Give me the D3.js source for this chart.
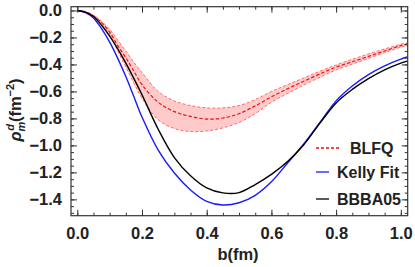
<!DOCTYPE html>
<html>
<head>
<meta charset="utf-8">
<script src="https://cdn.jsdelivr.net/npm/d3@7"></script>
<style>
  body { margin: 0; background: #fff; }
  svg { display: block; }
  text { font-family: "Liberation Sans", Arial, sans-serif; font-weight: bold; fill: #222; }
</style>
</head>
<body>
<svg id="chart" width="415" height="267"></svg>
<script>
// impact parameter grid (fm)
const bGrid = [0, 0.025, 0.05, 0.075, 0.1, 0.125, 0.15, 0.175, 0.2, 0.25, 0.3, 0.35, 0.4, 0.45, 0.5, 0.55, 0.6, 0.65, 0.7, 0.75, 0.8, 0.85, 0.9, 0.95, 1.0, 1.02];
const kelly = [0, -0.015, -0.055, -0.135, -0.235, -0.355, -0.49, -0.64, -0.79, -1.035, -1.205, -1.33, -1.415, -1.442, -1.425, -1.37, -1.27, -1.13, -0.99, -0.83, -0.67, -0.56, -0.475, -0.41, -0.36, -0.345];
const bbba = [0, -0.012, -0.045, -0.11, -0.19, -0.285, -0.39, -0.505, -0.625, -0.88, -1.09, -1.225, -1.315, -1.352, -1.35, -1.29, -1.215, -1.12, -0.995, -0.835, -0.685, -0.585, -0.505, -0.44, -0.39, -0.375];
const blfq = [0, -0.01, -0.04, -0.09, -0.16, -0.26, -0.35, -0.45, -0.55, -0.68, -0.75, -0.785, -0.805, -0.797, -0.765, -0.707, -0.64, -0.58, -0.525, -0.47, -0.42, -0.38, -0.34, -0.3, -0.26, -0.25];
const blfqUpper = [0, -0.009, -0.035, -0.08, -0.14, -0.22, -0.3, -0.385, -0.46, -0.6, -0.67, -0.705, -0.722, -0.722, -0.705, -0.66, -0.6, -0.55, -0.5, -0.45, -0.404, -0.362, -0.322, -0.285, -0.25, -0.24];
const blfqLower = [0, -0.011, -0.045, -0.1, -0.18, -0.3, -0.42, -0.54, -0.65, -0.81, -0.875, -0.897, -0.893, -0.87, -0.83, -0.765, -0.68, -0.615, -0.553, -0.495, -0.441, -0.398, -0.355, -0.312, -0.272, -0.26];

const xTicks = [0, 0.2, 0.4, 0.6, 0.8, 1.0];
const yTicks = [0, -0.2, -0.4, -0.6, -0.8, -1.0, -1.2, -1.4];
const legendNames = ["BLFQ", "Kelly Fit", "BBBA05"];

const svg = d3.select("#chart");
const frame = { left: 71, top: 6.7, right: 407.7, bottom: 215.7 };

const x = d3.scaleLinear().domain([-0.0195, 1.0213]).range([frame.left, frame.right]);
const y = d3.scaleLinear().domain([0.028, -1.521]).range([frame.top, frame.bottom]);

svg.append("defs").append("clipPath").attr("id", "clip")
  .append("rect")
  .attr("x", frame.left).attr("y", frame.top)
  .attr("width", frame.right - frame.left).attr("height", frame.bottom - frame.top);

const plot = svg.append("g").attr("clip-path", "url(#clip)");

const smooth = d3.curveCatmullRom.alpha(0.5);

const line = (vals) => d3.line()
  .x((d, i) => x(bGrid[i]))
  .y((d) => y(d))
  .curve(smooth)(vals);

const band = d3.area()
  .x((d, i) => x(bGrid[i]))
  .y0((d, i) => y(blfqLower[i]))
  .y1((d) => y(d))
  .curve(smooth);

plot.append("path").attr("d", band(blfqUpper)).attr("fill", "#ffcaca").attr("stroke", "none");
[blfqUpper, blfqLower].forEach((vals) => {
  plot.append("path").attr("d", line(vals))
    .attr("fill", "none").attr("stroke", "#ff6a6a").attr("stroke-width", 1)
    .attr("stroke-dasharray", "3,2");
});
plot.append("path").attr("d", line(blfq))
  .attr("fill", "none").attr("stroke", "#ee1111").attr("stroke-width", 1.2)
  .attr("stroke-dasharray", "3.5,2");
plot.append("path").attr("d", line(kelly))
  .attr("fill", "none").attr("stroke", "#1a1aff").attr("stroke-width", 1.4);
plot.append("path").attr("d", line(bbba))
  .attr("fill", "none").attr("stroke", "#000").attr("stroke-width", 1.4);

// frame with inward ticks on all four sides
const axisColor = "#333";
const xMinor = d3.range(0, 1.0001, 0.05);
const yMinor = d3.range(0, -1.5001, -0.05);

svg.append("g").attr("transform", `translate(0,${frame.bottom})`)
  .call(d3.axisBottom(x).tickValues(xTicks).tickSize(-6).tickPadding(12).tickFormat(d3.format(".1f")));
svg.append("g").attr("transform", `translate(0,${frame.top})`)
  .call(d3.axisTop(x).tickValues(xTicks).tickSize(-6).tickFormat(""));
svg.append("g").attr("transform", `translate(${frame.left},0)`)
  .call(d3.axisLeft(y).tickValues(yTicks).tickSize(-6).tickPadding(9)
    .tickFormat((d) => d3.format(".1f")(d).replace("-", "\u2212")));
svg.append("g").attr("transform", `translate(${frame.right},0)`)
  .call(d3.axisRight(y).tickValues(yTicks).tickSize(-6).tickFormat(""));

svg.append("g").attr("transform", `translate(0,${frame.bottom})`)
  .call(d3.axisBottom(x).tickValues(xMinor).tickSize(-3).tickFormat(""));
svg.append("g").attr("transform", `translate(0,${frame.top})`)
  .call(d3.axisTop(x).tickValues(xMinor).tickSize(-3).tickFormat(""));
svg.append("g").attr("transform", `translate(${frame.left},0)`)
  .call(d3.axisLeft(y).tickValues(yMinor).tickSize(-3).tickFormat(""));
svg.append("g").attr("transform", `translate(${frame.right},0)`)
  .call(d3.axisRight(y).tickValues(yMinor).tickSize(-3).tickFormat(""));

svg.selectAll(".domain").remove();
svg.selectAll(".tick line").attr("stroke", axisColor).attr("stroke-width", 1);
svg.selectAll(".tick text").attr("font-size", 16.5).attr("font-family", "Liberation Sans, Arial, sans-serif")
  .attr("font-weight", "bold").attr("fill", "#222");

svg.append("rect")
  .attr("x", frame.left).attr("y", frame.top)
  .attr("width", frame.right - frame.left).attr("height", frame.bottom - frame.top)
  .attr("fill", "none").attr("stroke", axisColor).attr("stroke-width", 1.2);

// axis titles
svg.append("text").attr("x", 238).attr("y", 260).attr("text-anchor", "middle")
  .attr("font-size", 16.5).text("b(fm)");

const yTitle = svg.append("text")
  .attr("transform", "translate(21,110) rotate(-90)")
  .attr("text-anchor", "middle").attr("font-size", 16.5);
yTitle.append("tspan").attr("font-style", "italic").text("\u03c1");
yTitle.append("tspan").attr("font-size", 11).attr("font-style", "italic").attr("dy", 4).text("m");
yTitle.append("tspan").attr("font-size", 11).attr("font-style", "italic").attr("dx", -9).attr("dy", -11).text("d");
yTitle.append("tspan").attr("dy", 7).attr("dx", 2).text("(fm");
yTitle.append("tspan").attr("font-size", 11).attr("dy", -7).text("\u22122");
yTitle.append("tspan").attr("dy", 7).text(")");

// legend
const legend = svg.append("g");
const legendRows = [
  { name: legendNames[0], color: "#ee1111", dash: "3,2", x2: 340, tx: 350, ly: 148, ty: 154 },
  { name: legendNames[1], color: "#1a1aff", dash: null, x2: 329, tx: 337, ly: 172, ty: 178 },
  { name: legendNames[2], color: "#000", dash: null, x2: 329, tx: 337, ly: 199, ty: 205 }
];
legendRows.forEach((r) => {
  legend.append("line").attr("x1", 316).attr("x2", r.x2).attr("y1", r.ly).attr("y2", r.ly)
    .attr("stroke", r.color).attr("stroke-width", 1.3)
    .attr("stroke-dasharray", r.dash);
  legend.append("text").attr("x", r.tx).attr("y", r.ty).attr("font-size", 16).text(r.name);
});
</script>
</body>
</html>
